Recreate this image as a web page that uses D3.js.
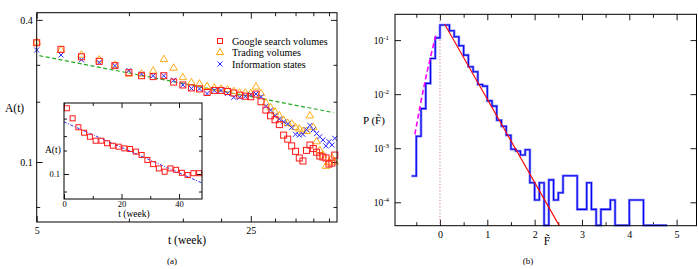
<!DOCTYPE html>
<html>
<head>
<meta charset="utf-8">
<script src="https://cdn.jsdelivr.net/npm/d3@7"></script>
<style>
  body { margin: 0; background: #fff; }
  svg { display: block; font-family: "Liberation Serif", "DejaVu Serif", serif; }
</style>
</head>
<body>
<script>
// ---- panel (a): A(t) vs t, log-log ----
const T_MAIN = d3.range(5, 48); // weeks 5..47
const GOOGLE = [0.320, 0.300, 0.279, 0.267, 0.256, 0.239, 0.232, 0.230, 0.232, 0.218,
  0.212, 0.206, 0.204, 0.197, 0.201, 0.201, 0.199, 0.196, 0.192, 0.190,
  0.189, 0.194, 0.180, 0.166, 0.157, 0.151, 0.144, 0.130, 0.125, 0.117,
  0.111, 0.104, 0.101, 0.112, 0.118, 0.114, 0.110, 0.106, 0.105, 0.104,
  0.098, 0.099, 0.107];
const TRADING = [0.322, 0.298, 0.284, 0.271, 0.257, 0.236, 0.236, 0.243, 0.272, 0.250,
  0.228, 0.217, 0.214, 0.209, 0.206, 0.204, 0.202, 0.199, 0.196, 0.196,
  0.195, 0.208, 0.195, 0.178, 0.170, 0.163, 0.157, 0.150, 0.146, 0.145,
  0.140, 0.138, 0.135, 0.135, 0.157, 0.140, 0.122, 0.112, 0.107, 0.096,
  0.100, 0.104, 0.100];
const INFO = [0.298, 0.284, 0.271, 0.264, 0.256, 0.244, 0.236, 0.232, 0.232, 0.222,
  0.212, 0.205, 0.204, 0.195, 0.201, 0.201, 0.195, 0.188, 0.188, 0.190,
  0.193, 0.194, 0.189, 0.172, 0.166, 0.157, 0.152, 0.148, 0.145, 0.140,
  0.131, 0.130, 0.131, 0.137, 0.143, 0.137, 0.132, 0.128, 0.124, 0.117,
  0.122, 0.118, 0.126];
const FIT_MAIN = [[5.1, 0.282], [46.5, 0.162]];
const LEGEND = ['Google search volumes', 'Trading volumes', 'Information states'];
const X_MAJOR_A = [5, 25], X_MINOR_A = [10, 15, 20, 30, 35, 40, 45];
const Y_MAJOR_A = [0.1, 0.4], Y_MINOR_A = [0.0645, 0.18, 0.258];

// inset: A(t) vs t, lin-log
const T_INSET = d3.range(1, 48, 2);
const GOOGLE_INSET = [0.518, 0.403, 0.322, 0.281, 0.254, 0.230, 0.230, 0.216, 0.203, 0.198,
  0.190, 0.187, 0.175, 0.161, 0.142, 0.128, 0.115, 0.106, 0.115, 0.111,
  0.103, 0.0975, 0.102, 0.102];
const FIT_INSET = [[0, 0.368], [48, 0.0798]];
const X_MAJOR_IN = [0, 20, 40], X_MINOR_IN = [10, 30];
const Y_MAJOR_IN = [0.1], Y_MINOR_IN = [0.0645, 0.18, 0.258, 0.4];

// ---- panel (b): P(F~) histogram ----
const HIST_START = -0.6, HIST_STEP = 0.1;
const HIST = [3.07e-4, 1.67e-3, 5.4e-3, 0.0158, 0.0458, 0.110, 0.19, 0.19, 0.149, 0.115,
  0.0785, 0.0527, 0.0321, 0.0259, 0.0151, 0.0141, 7.5e-3, 6.0e-3, 3.3e-3, 2.55e-3,
  1.74e-3, 9.6e-4, 8.9e-4, 7.5e-4, 9.4e-4, 2.3e-4, 1.1e-4, 2.3e-4, 0, 2.6e-4,
  1.1e-4, 1.5e-4, 3.1e-4, 3.1e-4, 3.1e-4, 7.4e-5, 7.4e-5, 2.3e-4, 7.4e-5, 0,
  7.4e-5, 7.4e-5, 1.1e-4, 0, 0, 0, 1.1e-4, 1.1e-4, 1.1e-4, 0,
  0, 0, 0, 0];
const FIT_RIGHT = [[0.1, 0.196], [2.52, 3.7e-5]];
const FIT_LEFT = [[-0.53, 1.8e-3], [-0.32, 0.0165], [-0.085, 0.124]];
const X_MAJOR_B = [0, 1, 2, 3, 4, 5], X_MINOR_B = [-0.5, 0.5, 1.5, 2.5, 3.5, 4.5];
const Y_MAJOR_B = [1e-4, 1e-3, 1e-2, 1e-1];

const svg = d3.select('body').append('svg').attr('width', 698).attr('height', 269);

// inward ticks on all four sides of a frame
function frameTicks(g, x, y, xv, yv, len, xFmt, yFmt, xPad = 5) {
  const [x0, x1] = x.range(), [y0, y1] = y.range();
  const ax = [
    [d3.axisBottom(x).tickValues(xv), `translate(0,${y0})`, xFmt],
    [d3.axisTop(x).tickValues(xv), `translate(0,${y1})`, null],
    [d3.axisLeft(y).tickValues(yv), `translate(${x0},0)`, yFmt],
    [d3.axisRight(y).tickValues(yv), `translate(${x1},0)`, null]
  ];
  ax.forEach(([a, tr, fmt], i) => {
    const vals = i < 2 ? xv : yv;
    if (!vals.length) return;
    const s = g.append('g').attr('transform', tr)
      .call(a.tickSize(-len).tickPadding(i < 2 ? xPad : 4).tickFormat(fmt || (() => '')));
    s.select('.domain').remove();
    s.selectAll('line').attr('stroke', '#000').attr('stroke-width', 0.9);
    s.selectAll('text').attr('font-family', '"Liberation Serif", serif').attr('fill', '#000');
  });
}

// ===== panel (a) =====
const xa = d3.scaleLog().domain([5, 47.8]).range([36.7, 337]);
const ya = d3.scaleLog().domain([0.0557, 0.429]).range([222, 12.7]);
const ga = svg.append('g');

const fmtA = d => d;
frameTicks(ga, xa, ya, X_MAJOR_A, Y_MAJOR_A, 6, fmtA, fmtA);
frameTicks(ga, xa, ya, X_MINOR_A, Y_MINOR_A, 3.5, null, null);
ga.selectAll('text').attr('font-size', 10);

ga.append('path')
  .attr('d', d3.line().x(d => xa(d[0])).y(d => ya(d[1]))(FIT_MAIN))
  .attr('fill', 'none').attr('stroke', '#22aa22').attr('stroke-width', 1.2)
  .attr('stroke-dasharray', '4,2.5');

function squares(g, xs, ys, ts, vals, s, col) {
  g.selectAll(null).data(ts).enter().append('rect')
    .attr('x', (d) => xs(d) - s / 2).attr('y', (d, i) => ys(vals[i]) - s / 2)
    .attr('width', s).attr('height', s)
    .attr('fill', 'none').attr('stroke', col).attr('stroke-width', 1);
}
function triangles(g, xs, ys, ts, vals, col) {
  const sym = d3.symbol().type(d3.symbolTriangle).size(24);
  g.selectAll(null).data(ts).enter().append('path')
    .attr('d', sym).attr('transform', (d, i) => `translate(${xs(d)},${ys(vals[i])})`)
    .attr('fill', 'none').attr('stroke', col).attr('stroke-width', 0.9);
}
function crosses(g, xs, ys, ts, vals, col) {
  const r = 2.5;
  g.selectAll(null).data(ts).enter().append('path')
    .attr('d', (d, i) => {
      const cx = xs(d), cy = ys(vals[i]);
      return `M${cx - r},${cy - r}L${cx + r},${cy + r}M${cx - r},${cy + r}L${cx + r},${cy - r}`;
    })
    .attr('stroke', col).attr('stroke-width', 1);
}

triangles(ga, xa, ya, T_MAIN, TRADING, '#ffa500');
crosses(ga, xa, ya, T_MAIN, INFO, '#2828ff');
squares(ga, xa, ya, T_MAIN, GOOGLE, 6, '#ff1a1a');

ga.append('rect').attr('x', 36.7).attr('y', 12.7).attr('width', 337 - 36.7).attr('height', 222 - 12.7)
  .attr('fill', 'none').attr('stroke', '#000').attr('stroke-width', 1);

// legend
const legY = [41, 52.5, 64];
const lg = ga.append('g');
lg.append('rect').attr('x', 217.5).attr('y', legY[0] - 2.5).attr('width', 5).attr('height', 5)
  .attr('fill', 'none').attr('stroke', '#ff1a1a');
lg.append('path').attr('d', d3.symbol().type(d3.symbolTriangle).size(22)())
  .attr('transform', `translate(220,${legY[1]})`).attr('fill', 'none').attr('stroke', '#ffa500');
lg.append('path').attr('d', `M217.5,${legY[2] - 2.5}L222.5,${legY[2] + 2.5}M217.5,${legY[2] + 2.5}L222.5,${legY[2] - 2.5}`)
  .attr('stroke', '#2828ff');
lg.selectAll('text').data(LEGEND).enter().append('text')
  .attr('x', 232).attr('y', (d, i) => legY[i] + 3.5).attr('font-size', 10.2).text(d => d);

svg.append('text').attr('x', 5).attr('y', 112).attr('font-size', 11.5).text('A(t)');
svg.append('text').attr('x', 187).attr('y', 244).attr('text-anchor', 'middle').attr('font-size', 11.5).text('t (week)');
svg.append('text').attr('x', 172).attr('y', 264).attr('text-anchor', 'middle').attr('font-size', 9).text('(a)');

// inset
const xi = d3.scaleLinear().domain([0, 48]).range([64, 202]);
const yi = d3.scaleLog().domain([0.0535, 0.591]).range([199, 103]);
const gi = svg.append('g');
gi.append('rect').attr('x', 64).attr('y', 103).attr('width', 138).attr('height', 96).attr('fill', '#fff');
frameTicks(gi, xi, yi, X_MAJOR_IN, Y_MAJOR_IN, 5, d => d, d => d, 1.5);
frameTicks(gi, xi, yi, X_MINOR_IN, Y_MINOR_IN, 3, null, null);
gi.selectAll('text').attr('font-size', 8.5);
gi.append('path')
  .attr('d', d3.line().x(d => xi(d[0])).y(d => yi(d[1]))(FIT_INSET))
  .attr('fill', 'none').attr('stroke', '#3030ff').attr('stroke-width', 1)
  .attr('stroke-dasharray', '3,1.5,1,1.5');
squares(gi, xi, yi, T_INSET, GOOGLE_INSET, 5, '#ff1a1a');
gi.append('rect').attr('x', 64).attr('y', 103).attr('width', 138).attr('height', 96)
  .attr('fill', 'none').attr('stroke', '#000').attr('stroke-width', 1);
gi.append('text').attr('x', 45).attr('y', 153).attr('font-size', 9.5).text('A(t)');
gi.append('text').attr('x', 134).attr('y', 217).attr('text-anchor', 'middle').attr('font-size', 9.5).text('t (week)');

// ===== panel (b) =====
const xb = d3.scaleLinear().domain([-0.95, 5.42]).range([395, 696.5]);
const yb = d3.scaleLog().domain([3.69e-5, 0.3]).range([225.7, 14.3]);
const gb = svg.append('g');

frameTicks(gb, xb, yb, X_MAJOR_B, Y_MAJOR_B, 6, d => d, null);
frameTicks(gb, xb, yb, X_MINOR_B, [], 3.5, null, null);
gb.selectAll('text').attr('font-size', 10);

// y labels 10^-n
const yl = gb.append('g');
Y_MAJOR_B.forEach(v => {
  const t = yl.append('text').attr('x', 389).attr('y', yb(v) + 3.5)
    .attr('text-anchor', 'end').attr('font-size', 9.5);
  t.append('tspan').text('10');
  t.append('tspan').attr('dy', -4).attr('font-size', 7).text(String(Math.round(Math.log10(v))));
});

// dotted zero line
gb.append('line').attr('x1', xb(0)).attr('x2', xb(0)).attr('y1', 14.3).attr('y2', 225.7)
  .attr('stroke', '#c08080').attr('stroke-width', 1).attr('stroke-dasharray', '1.2,2');

const floorY = yb.range()[0];
const histPts = HIST.map((v, i) => [HIST_START + i * HIST_STEP, v]);
histPts.push([HIST_START + HIST.length * HIST_STEP, HIST[HIST.length - 1]]);
const histLine = d3.line().curve(d3.curveStepAfter)
  .x(d => xb(d[0])).y(d => d[1] > 0 ? yb(d[1]) : floorY - 0.5);
gb.append('path').attr('d', histLine(histPts))
  .attr('fill', 'none').attr('stroke', '#8a8aff').attr('stroke-width', 2.6);
gb.append('path').attr('d', histLine(histPts))
  .attr('fill', 'none').attr('stroke', '#0000ee').attr('stroke-width', 1.1);

const lineB = d3.line().x(d => xb(d[0])).y(d => yb(d[1]));
gb.append('path').attr('d', lineB(FIT_RIGHT))
  .attr('fill', 'none').attr('stroke', '#ff0000').attr('stroke-width', 1.1);
gb.append('path').attr('d', d3.line().curve(d3.curveMonotoneX).x(d => xb(d[0])).y(d => yb(d[1]))(FIT_LEFT))
  .attr('fill', 'none').attr('stroke', '#ff00ff').attr('stroke-width', 1.6)
  .attr('stroke-dasharray', '5,3');

gb.append('rect').attr('x', 395).attr('y', 14.3).attr('width', 696.5 - 395).attr('height', 225.7 - 14.3)
  .attr('fill', 'none').attr('stroke', '#000').attr('stroke-width', 1);

svg.append('text').attr('x', 363).attr('y', 124).attr('font-size', 11).text('P (F\u0303)');
svg.append('text').attr('x', 547).attr('y', 245).attr('text-anchor', 'middle').attr('font-size', 11.5).text('F\u0303');
svg.append('text').attr('x', 528).attr('y', 264).attr('text-anchor', 'middle').attr('font-size', 9).text('(b)');
</script>
</body>
</html>
